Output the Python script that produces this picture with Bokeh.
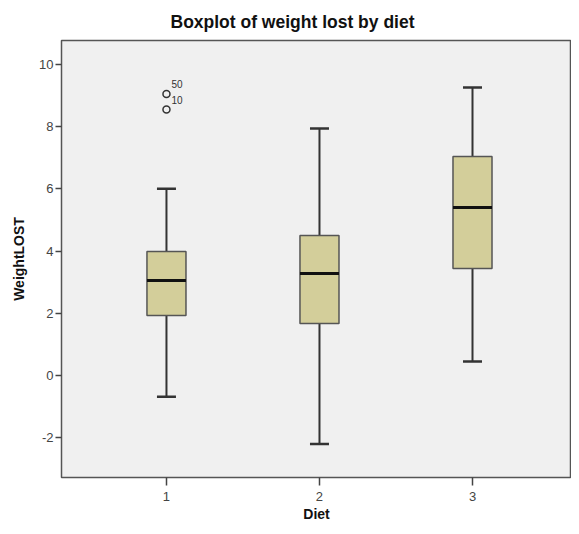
from bokeh.plotting import figure
from bokeh.models import Range1d, FixedTicker, ColumnDataSource
from bokeh.embed import file_html
from bokeh.resources import INLINE
from bokeh.core.properties import value
import numpy as np

# Data
title_text = "Boxplot of weight lost by diet"
diets = [1, 2, 3]
tick_labels = {1: "1", 2: "2", 3: "3"}
y_ticks = [-2, 0, 2, 4, 6, 8, 10]
y_tick_labels = {-2: "-2", 0: "0", 2: "2", 4: "4", 6: "6", 8: "8", 10: "10"}
lower_whisker = [-0.68, -2.2, 0.45]
q1 = [1.93, 1.67, 3.44]
median = [3.05, 3.28, 5.40]
q3 = [3.99, 4.50, 7.04]
upper_whisker = [6.00, 7.94, 9.26]

outlier_x = [1, 1]
outlier_y = [9.05, 8.55]
outlier_labels = ["50", "10"]

BOX_W = 0.255
FONT = "Liberation Sans"

p = figure(width=571, height=526, output_backend="svg", toolbar_location=None,
           x_range=Range1d(0.314, 3.647), y_range=Range1d(-3.28, 10.77),
           min_border_left=61, min_border_right=0, min_border_top=40, min_border_bottom=49)

p.background_fill_color = "#F0F0F0"
p.border_fill_color = "white"
p.outline_line_color = "#555555"
p.outline_line_width = 1.5
p.xgrid.visible = False
p.ygrid.visible = False

p.title.text = title_text
p.title.align = "left"
p.title.offset = 109
p.title.vertical_align = "bottom"
p.title.standoff = 18
p.title.text_font = FONT
p.title.text_font_size = "17.5px"
p.title.text_font_style = "bold"
p.title.text_color = "#111111"

src = ColumnDataSource(dict(x=diets, lw=lower_whisker, q1=q1, med=median, q3=q3, uw=upper_whisker,
                            xl=list(np.array(diets) - BOX_W / 2), xr=list(np.array(diets) + BOX_W / 2)))

# whisker stems
p.segment(x0="x", y0="q3", x1="x", y1="uw", source=src, line_color="#333333", line_width=2)
p.segment(x0="x", y0="lw", x1="x", y1="q1", source=src, line_color="#333333", line_width=2)
# caps
p.scatter(x="x", y="uw", source=src, marker="dash", size=19, line_color="#333333", line_width=2.5)
p.scatter(x="x", y="lw", source=src, marker="dash", size=19, line_color="#333333", line_width=2.5)
# boxes
p.vbar(x="x", width=BOX_W, bottom="q1", top="q3", source=src,
       fill_color="#D3CE9A", line_color="#555555", line_width=1.5)
# medians
p.segment(x0="xl", y0="med", x1="xr", y1="med", source=src, line_color="#111111", line_width=3)

# outliers
osrc = ColumnDataSource(dict(x=outlier_x, y=outlier_y, t=outlier_labels))
p.scatter(x="x", y="y", source=osrc, marker="circle", size=7, fill_color=None,
          line_color="#333333", line_width=1.5)
p.text(x="x", y="y", text="t", source=osrc, x_offset=5, y_offset=-10,
       text_font=value(FONT), text_font_size="10px", text_color="#333333",
       text_baseline="middle", text_align="left")

# axes
p.xaxis.ticker = FixedTicker(ticks=diets)
p.xaxis.major_label_overrides = tick_labels
p.yaxis.ticker = FixedTicker(ticks=y_ticks)
p.yaxis.major_label_overrides = y_tick_labels

for ax in (p.xaxis[0], p.yaxis[0]):
    ax.axis_line_color = None
    ax.major_tick_in = 0
    ax.minor_tick_line_color = None
    ax.major_tick_line_color = "#444444"
    ax.major_tick_line_width = 1.5
    ax.major_label_text_font = FONT
    ax.major_label_text_font_size = "13px"
    ax.major_label_text_color = "#444444"
    ax.axis_label_text_font = FONT
    ax.axis_label_text_font_size = "14px"
    ax.axis_label_text_font_style = "bold"
    ax.axis_label_text_color = "#111111"

p.xaxis.axis_label = "Diet"
p.xaxis.major_tick_out = 8
p.xaxis.major_label_standoff = 6
p.xaxis.axis_label_standoff = 2

p.yaxis.axis_label = "WeightLOST"
p.yaxis.major_tick_out = 6
p.yaxis.major_label_standoff = 2
p.yaxis.axis_label_standoff = 9

open("out.html", "w").write(file_html(p, INLINE))
